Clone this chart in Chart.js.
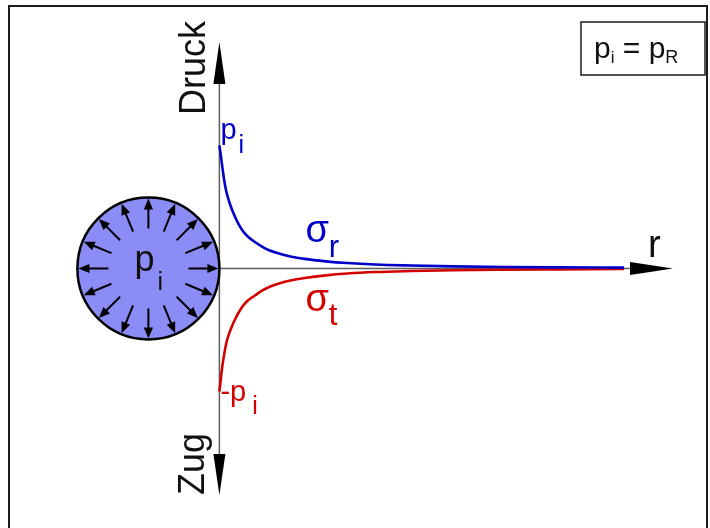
<!DOCTYPE html>
<html>
<head>
<meta charset="utf-8">
<script src="https://cdn.jsdelivr.net/npm/chart.js@4.4.1/dist/chart.umd.min.js"></script>
<style>
  html, body { margin: 0; padding: 0; background: #ffffff; }
  #wrap { width: 710px; height: 528px; position: relative; }
</style>
</head>
<body>
<div id="wrap"><canvas id="c"></canvas></div>
<script>
// Radius ratio r/a, measured from the centre of the hole (a = hole radius)
const radiusRatio = [1.00, 1.01, 1.02, 1.04, 1.07, 1.10, 1.14, 1.18, 1.22, 1.27, 1.33, 1.40, 1.50, 1.60,
                     1.70, 1.85, 2.00, 2.20, 2.50, 2.80, 3.20, 3.70, 4.30, 5.00, 5.80, 6.70];
// Radial stress sigma_r in units of p_i (compression = Druck, positive)
const sigmaR = [1.00, 0.96, 0.92, 0.83, 0.71, 0.62, 0.54, 0.475, 0.42, 0.36, 0.305, 0.26, 0.215, 0.178,
                0.148, 0.12, 0.098, 0.078, 0.058, 0.044, 0.032, 0.024, 0.017, 0.012, 0.009, 0.007];
// Tangential stress sigma_t in units of p_i (tension = Zug, negative)
const sigmaT = [-1.00, -0.95, -0.90, -0.80, -0.69, -0.60, -0.525, -0.465, -0.415, -0.36, -0.305, -0.26, -0.22, -0.18,
                -0.15, -0.12, -0.098, -0.078, -0.056, -0.041, -0.029, -0.021, -0.014, -0.010, -0.007, -0.004];

const FONT = '"Liberation Sans", Arial, sans-serif';
const font = (px) => px + 'px ' + FONT;

function toPoints(xs, ys) { return xs.map((v, i) => ({ x: v, y: ys[i] })); }

function arrowHead(ctx, tx, ty, dx, dy, len, half) {
  // dx,dy: unit direction the arrow points to
  const bx = tx - dx * len, by = ty - dy * len;
  const nx = -dy, ny = dx;
  ctx.beginPath();
  ctx.moveTo(tx, ty);
  ctx.lineTo(bx + nx * half, by + ny * half);
  ctx.lineTo(bx - nx * half, by - ny * half);
  ctx.closePath();
  ctx.fill();
}

function textRun(ctx, parts, x, y) {
  // parts: [text, size, dy, gapBefore]
  let cx = x;
  for (const [t, s, dy, gap] of parts) {
    cx += gap || 0;
    ctx.font = font(s);
    ctx.fillText(t, cx, y + (dy || 0));
    cx += ctx.measureText(t).width;
  }
}

const decor = {
  id: 'decor',
  beforeDatasetsDraw(chart) {
    const { ctx, scales: { x, y } } = chart;
    const ox = x.getPixelForValue(1), oy = y.getPixelForValue(0);
    ctx.save();
    // outer frame
    ctx.strokeStyle = '#1c1c1c';
    ctx.lineWidth = 2;
    ctx.strokeRect(9, 6, 698, 560);

    // axes
    ctx.strokeStyle = '#5e5e5e';
    ctx.lineWidth = 1.5;
    ctx.beginPath();
    ctx.moveTo(ox, 82); ctx.lineTo(ox, 457);
    ctx.moveTo(ox, oy); ctx.lineTo(632, oy);
    ctx.stroke();
    ctx.fillStyle = '#000';
    arrowHead(ctx, ox, 42, 0, -1, 42, 6);
    arrowHead(ctx, ox, 495, 0, 1, 41, 6);
    arrowHead(ctx, 673, oy, 1, 0, 43, 6.5);

    // hole under internal pressure
    const cx = x.getPixelForValue(0), R = ox - cx;
    ctx.beginPath();
    ctx.arc(cx, oy, R, 0, Math.PI * 2);
    ctx.fillStyle = 'rgb(140,140,246)';
    ctx.fill();
    ctx.lineWidth = 2.5;
    ctx.strokeStyle = '#000';
    ctx.stroke();
    ctx.lineWidth = 2;
    ctx.fillStyle = '#000';
    for (let k = 0; k < 16; k++) {
      const a = k * Math.PI / 8;
      const ux = Math.cos(a), uy = -Math.sin(a);
      const r0 = R - 31, r1 = R - 1;
      ctx.beginPath();
      ctx.moveTo(cx + ux * r0, oy + uy * r0);
      ctx.lineTo(cx + ux * (r1 - 8), oy + uy * (r1 - 8));
      ctx.stroke();
      arrowHead(ctx, cx + ux * r1, oy + uy * r1, ux, uy, 11, 4.6);
    }
    ctx.restore();
  },
  afterDatasetsDraw(chart) {
    const { ctx, scales: { x, y } } = chart;
    const ox = x.getPixelForValue(1), oy = y.getPixelForValue(0);
    const cx = x.getPixelForValue(0);
    const top = y.getPixelForValue(sigmaR[0]), bot = y.getPixelForValue(sigmaT[0]);
    ctx.save();
    ctx.textBaseline = 'alphabetic';
    ctx.textAlign = 'left';

    // axis titles
    ctx.fillStyle = '#111';
    ctx.font = font(36);
    ctx.save();
    ctx.translate(ox - 14, 68);
    ctx.rotate(-Math.PI / 2);
    ctx.textAlign = 'center';
    ctx.fillText('Druck', 0, 0);
    ctx.restore();
    ctx.save();
    ctx.translate(ox - 15, 464);
    ctx.rotate(-Math.PI / 2);
    ctx.textAlign = 'center';
    ctx.fillText('Zug', 0, 0);
    ctx.restore();
    ctx.font = font(38);
    ctx.fillText('r', 648, oy - 11);

    // pressure label inside the hole
    textRun(ctx, [['p', 36], ['i', 25, 19, 3]], cx - 14, oy + 3);

    // blue: radial stress
    ctx.fillStyle = '#0000c8';
    textRun(ctx, [['p', 29], ['i', 25, 14, 2]], ox + 1, top - 6);
    textRun(ctx, [['σ', 38], ['r', 31, 15]], ox + 86, oy - 26);

    // red: tangential stress
    ctx.fillStyle = '#d40000';
    textRun(ctx, [['-p', 29], ['i', 25, 13, 6]], ox + 1, bot + 10);
    textRun(ctx, [['σ', 38], ['t', 31, 14]], ox + 86, oy + 43);

    // condition box
    ctx.strokeStyle = '#1c1c1c';
    ctx.lineWidth = 1.5;
    ctx.strokeRect(581, 22, 124, 53);
    ctx.fillStyle = '#111';
    textRun(ctx, [['p', 30], ['i', 17, 5], [' = ', 30], ['p', 30], ['R', 18, 5]], 594, 58);
    ctx.restore();
  }
};

new Chart(document.getElementById('c'), {
  type: 'line',
  data: {
    datasets: [
      {
        label: 'σr',
        data: toPoints(radiusRatio, sigmaR),
        borderColor: '#0000c8',
        borderWidth: 2.6,
        pointRadius: 0,
        cubicInterpolationMode: 'monotone',
        fill: false
      },
      {
        label: 'σt',
        data: toPoints(radiusRatio, sigmaT),
        borderColor: '#d40000',
        borderWidth: 2.6,
        pointRadius: 0,
        cubicInterpolationMode: 'monotone',
        fill: false
      }
    ]
  },
  options: {
    responsive: true,
    maintainAspectRatio: false,
    animation: false,
    layout: { padding: 0 },
    scales: {
      x: { type: 'linear', min: -2.09, max: 7.91, display: false },
      y: { type: 'linear', min: -2.11, max: 2.183, display: false }
    },
    plugins: {
      legend: { display: false },
      tooltip: { enabled: false }
    }
  },
  plugins: [decor]
});
</script>
</body>
</html>
